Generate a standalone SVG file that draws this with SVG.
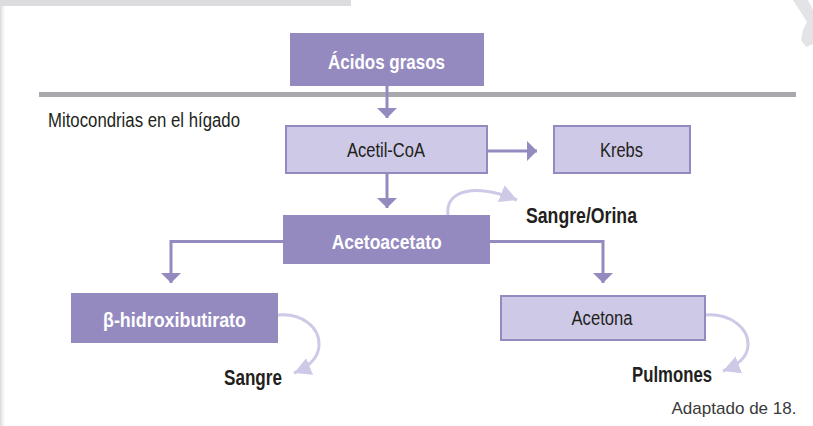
<svg xmlns="http://www.w3.org/2000/svg" width="813" height="426" viewBox="0 0 813 426">
  <defs>
    <style>
      .dark { fill: #948ac0; }
      .light { fill: #cdc9e6; stroke: #948ac0; stroke-width: 2; }
      .tw { fill: #ffffff; font-family: "Liberation Sans", Arial, sans-serif; font-weight: bold; font-size: 21px; }
      .tr { fill: #231f20; font-family: "Liberation Sans", Arial, sans-serif; font-size: 20px; }
      .tb { fill: #231f20; font-family: "Liberation Sans", Arial, sans-serif; font-weight: bold; font-size: 22px; }
      .conn { fill: none; stroke: #948ac0; stroke-width: 3; }
      .soft { fill: none; stroke: #cdc9e6; stroke-width: 3; }
    </style>
    <marker id="head" markerUnits="userSpaceOnUse" markerWidth="10" markerHeight="20" refX="10" refY="10" orient="auto">
      <path d="M0,0 L10,10 L0,20 Z" fill="#948ac0"/>
    </marker>
    <marker id="softhead" markerUnits="userSpaceOnUse" markerWidth="18" markerHeight="20" refX="17" refY="10" orient="auto">
      <path d="M0,1 L17,10 L0,19 Z" fill="#cdc9e6"/>
    </marker>
    <linearGradient id="edge" x1="0" y1="0" x2="1" y2="0">
      <stop offset="0" stop-color="#d8d8da"/>
      <stop offset="1" stop-color="#ffffff" stop-opacity="0"/>
    </linearGradient>
  </defs>

  <rect x="0" y="0" width="813" height="426" fill="#ffffff"/>
  <rect x="0" y="0" width="7" height="426" fill="url(#edge)"/>
  <rect x="0" y="0" width="351" height="6" fill="#dcdcde"/>
  <path d="M793,0 L808,0 L813,10 L813,44 L806,47 L801,40 L803,30 L807,22 Z" fill="#e4e4e6"/>

  <rect id="divider" x="39" y="92" width="757" height="5" fill="#a9a9ad"/>
  <text id="region-label" class="tr" x="48" y="126.5" font-size="21" textLength="192" lengthAdjust="spacingAndGlyphs">Mitocondrias en el hígado</text>

  <g id="connectors">
    <line class="conn" x1="387" y1="86" x2="387" y2="118" marker-end="url(#head)"/>
    <line class="conn" x1="487" y1="151" x2="537" y2="151" marker-end="url(#head)"/>
    <line class="conn" x1="387" y1="173" x2="387" y2="208" marker-end="url(#head)"/>
    <polyline class="conn" points="283,241.5 171,241.5 171,283" marker-end="url(#head)"/>
    <polyline class="conn" points="490,241.5 603,241.5 603,283" marker-end="url(#head)"/>
    <path class="soft" d="M448,215 C445,190 475,183 517,200" marker-end="url(#softhead)"/>
    <path class="soft" d="M278,315 C302,313 320,327 319,346 C318,360 306,368 294,373" marker-end="url(#softhead)"/>
    <path class="soft" d="M705,315 C729,313 749,327 748,346 C747,359 736,366 723,371" marker-end="url(#softhead)"/>
  </g>

  <g id="acidos-grasos">
    <rect class="dark" x="290" y="33" width="194" height="53"/>
    <text class="tw" x="386.5" y="69" text-anchor="middle" textLength="117" lengthAdjust="spacingAndGlyphs">Ácidos grasos</text>
  </g>
  <g id="acetil-coa">
    <rect class="light" x="286" y="126" width="201" height="47"/>
    <text class="tr" x="386" y="157" text-anchor="middle" textLength="78" lengthAdjust="spacingAndGlyphs">Acetil-CoA</text>
  </g>
  <g id="krebs">
    <rect class="light" x="554" y="126" width="136" height="47"/>
    <text class="tr" x="621.5" y="157" text-anchor="middle" textLength="43" lengthAdjust="spacingAndGlyphs">Krebs</text>
  </g>
  <g id="acetoacetato">
    <rect class="dark" x="283" y="215" width="207" height="49"/>
    <text class="tw" x="386.7" y="248.5" text-anchor="middle" textLength="110" lengthAdjust="spacingAndGlyphs">Acetoacetato</text>
  </g>
  <g id="sangre-orina">
    <text class="tb" x="526" y="223" textLength="111" lengthAdjust="spacingAndGlyphs">Sangre/Orina</text>
  </g>
  <g id="hidroxibutirato">
    <rect class="dark" x="71" y="293" width="207" height="50"/>
    <text class="tw" x="174.5" y="327" text-anchor="middle" textLength="143" lengthAdjust="spacingAndGlyphs">β-hidroxibutirato</text>
  </g>
  <g id="sangre">
    <text class="tb" x="224" y="385" textLength="58" lengthAdjust="spacingAndGlyphs">Sangre</text>
  </g>
  <g id="acetona">
    <rect class="light" x="501" y="296" width="204" height="44"/>
    <text class="tr" x="602" y="325" text-anchor="middle" textLength="61" lengthAdjust="spacingAndGlyphs">Acetona</text>
  </g>
  <g id="pulmones">
    <text class="tb" x="632" y="382" textLength="80" lengthAdjust="spacingAndGlyphs">Pulmones</text>
  </g>
  <text id="source" x="671.5" y="414" fill="#3a3a3a" font-family="Liberation Sans, Arial, sans-serif" font-size="17" textLength="125" lengthAdjust="spacingAndGlyphs">Adaptado de 18.</text>
</svg>
